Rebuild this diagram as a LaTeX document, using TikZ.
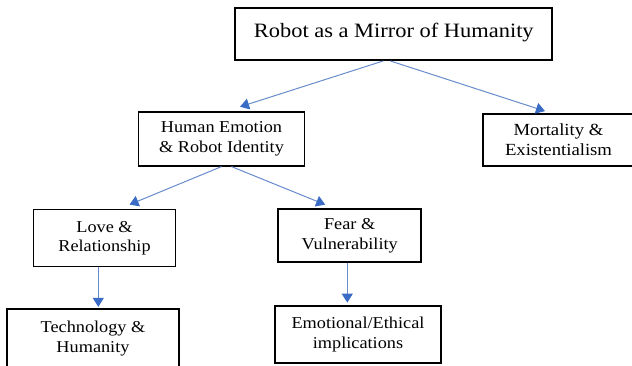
\documentclass[tikz,border=0pt]{standalone}
\usepackage{fontspec}
\setmainfont{Liberation Serif}[FakeStretch=1.1]
\usetikzlibrary{arrows.meta}
\definecolor{linkblue}{RGB}{104,140,204}
\definecolor{tipblue}{RGB}{58,108,198}
\tikzset{
  box/.style={draw=black, line width=1.8pt, fill=white, align=center,
    inner sep=0pt, font=\fontsize{16.6}{19.5}\selectfont},
  link/.style={draw=linkblue, line width=1pt,
    -{Triangle[width=11pt,length=9pt,color=tipblue]}}
}
\begin{document}
\begin{tikzpicture}[x=1pt,y=-1pt]
\useasboundingbox (0,0) rectangle (632,366);
\clip (0,0) rectangle (632,366);
\fill[white] (0,0) rectangle (632,366);

% boxes
\node[box, minimum width=317pt, text height=29pt, text depth=22.7pt,
      font=\fontsize{20.4}{24}\selectfont] (title) at (393.8,34.2) {Robot as a Mirror of Humanity};
\node[box, minimum width=166pt, minimum height=54pt] (human) at (221.5,138.7)
  {Human Emotion\\\& Robot Identity};
\node[box, minimum width=151pt, minimum height=52pt, font=\fontsize{17}{20}\selectfont] (mort) at (558.5,140)
  {Mortality \&\\Existentialism};
\node[box, minimum width=142pt, minimum height=57pt] (love) at (104.5,238)
  {Love \&\\Relationship};
\node[box, minimum width=142.7pt, minimum height=53.3pt] (fear) at (349.7,235.7)
  {Fear \&\\Vulnerability};
\node[box, minimum width=172.6pt, minimum height=58.7pt] (tech) at (93,338.6)
  {Technology \&\\Humanity};
\node[box, minimum width=166pt, minimum height=57.3pt] (ethic) at (358,334.7)
  {Emotional/Ethical\\implications};

% connectors
\draw[link] ([xshift=-10.5pt]title.south) -- ([shift={(18.5,-4)}]human.north);
\draw[link] ([xshift=-3.5pt]title.south) -- ([shift={(-13.5,-2)}]mort.north);
\draw[link] (human.south) -- ([shift={(25,-4)}]love.north);
\draw[link] ([xshift=10pt]human.south) -- ([shift={(-24.5,-3.5)}]fear.north);
\draw[link] ([xshift=-6.2pt]love.south) -- ([shift={(5.3,-1.5)}]tech.north);
\draw[link] ([xshift=-2.4pt]fear.south) -- ([shift={(-2.4,-2.5)}]fear.south |- ethic.north);
\end{tikzpicture}
\end{document}
